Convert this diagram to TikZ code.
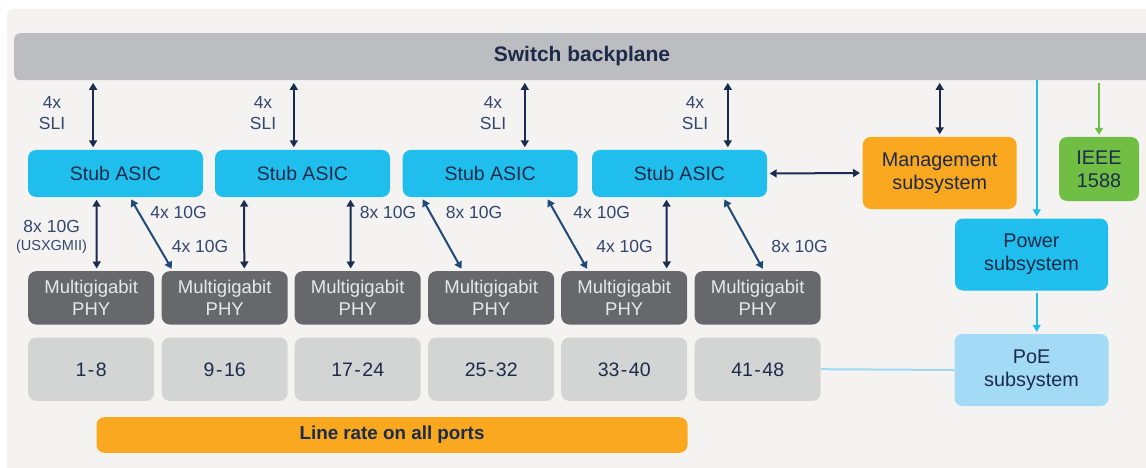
\documentclass[tikz,border=0pt]{standalone}
\usepackage{fontspec}
\setmainfont{Liberation Sans}
\usetikzlibrary{arrows.meta}
\definecolor{panelbg}{HTML}{F4F3F2}
\definecolor{bpgray}{HTML}{BCBDC0}
\definecolor{cyanbox}{HTML}{1FBEEC}
\definecolor{phygray}{HTML}{67686C}
\definecolor{portgray}{HTML}{D3D5D5}
\definecolor{mgmtorange}{HTML}{F9A81F}
\definecolor{ieeegreen}{HTML}{70BF44}
\definecolor{poeblue}{HTML}{A3DAF5}
\definecolor{navytext}{HTML}{1D2B4A}
\definecolor{labeltext}{HTML}{34466E}
\definecolor{navyarrow}{HTML}{1B2B50}
\definecolor{bluearrow}{HTML}{1F4A7A}
\definecolor{phytext}{HTML}{E8E8E8}
\definecolor{greenarrow}{HTML}{6DBE45}
\definecolor{poeline}{HTML}{9ED8F3}
\newcommand{\portdash}{\kern1.5pt-\kern1.5pt}
\begin{document}
\begin{tikzpicture}[x=1pt,y=-1pt,
  boxstyle/.style={rounded corners=8pt, inner sep=0pt, align=center, text=navytext},
  asicbox/.style={boxstyle, fill=cyanbox, minimum width=175pt, minimum height=47pt, font=\fontsize{19.5}{22}\selectfont},
  phybox/.style={boxstyle, fill=phygray, text=phytext, minimum width=126pt, minimum height=53.3pt, font=\fontsize{18.5}{22}\selectfont},
  portbox/.style={boxstyle, fill=portgray, minimum width=126pt, minimum height=63.4pt, font=\fontsize{19.5}{22}\selectfont},
  subbox/.style={boxstyle, minimum width=154pt, minimum height=72pt, font=\fontsize{19.8}{23}\selectfont},
  lbl/.style={text=labeltext, align=center, inner sep=0pt, font=\fontsize{17.5}{21}\selectfont},
  biarrow/.style={line width=2pt, draw=navyarrow, {Triangle[length=7pt,width=8pt]}-{Triangle[length=7pt,width=8pt]}, shorten <=2.5pt, shorten >=2.5pt},
  diarrow/.style={biarrow, draw=bluearrow},
]
\useasboundingbox (0,0) rectangle (1146,468);
\fill[white] (0,0) rectangle (1146,468);
\fill[panelbg, rounded corners=6pt] (7,9) rectangle (1170,490);

% backplane
\node[boxstyle, fill=bpgray, rounded corners=6pt, minimum width=1146pt, minimum height=47pt, anchor=north west] (bp) at (14,33) {};
\node[text=navytext, font=\fontsize{21}{24}\selectfont\bfseries] (bptext) at (582,56.5) {Switch backplane};

% ASICs
\node[asicbox] (asic1) at (115.5,173.5) {Stub ASIC};
\node[asicbox] (asic2) at (302.5,173.5) {Stub ASIC};
\node[asicbox] (asic3) at (490.2,173.5) {Stub ASIC};
\node[asicbox] (asic4) at (679.5,173.5) {Stub ASIC};

% subsystems
\node[subbox, fill=mgmtorange] (mgmt) at (939.7,173) {Management\\subsystem};
\node[subbox, fill=ieeegreen, minimum width=80pt, minimum height=64pt] (ieee) at (1099,169) {IEEE\\1588};
\node[subbox, fill=cyanbox, minimum width=153pt] (power) at (1031.5,254.5) {Power\\subsystem};
\node[subbox, fill=poeblue] (poe) at (1031.5,370) {PoE\\subsystem};

% PHYs and ports
\foreach \i/\lx/\pa/\pb in {1/28/1/8, 2/161.5/9/16, 3/294.5/17/24, 4/428/25/32, 5/561/33/40, 6/694.5/41/48}{
  \node[phybox, anchor=north west] (phy\i) at (\lx,271) {Multigigabit\\PHY};
  \node[portbox, anchor=north west, text depth=-1pt] (port\i) at (\lx,337.3) {\pa\portdash\pb};
}

% line rate bar
\node[boxstyle, fill=mgmtorange, minimum width=591pt, minimum height=35.7pt, font=\fontsize{18.8}{22}\selectfont\bfseries] (linerate) at (392,435) {Line rate on all ports};

% SLI arrows
\foreach \a/\dx/\lx in {1/65.3/52, 2/79/263, 3/122.3/493, 4/136/695}{
  \coordinate (sli\a) at ([xshift=\dx pt]asic\a.north west);
  \draw[biarrow] (bp.south -| sli\a) -- (sli\a);
  \node[lbl] (slilbl\a) at (\lx,113.5) {4x\\SLI};
}

% ASIC to PHY arrows
\draw[biarrow] ([xshift=68.7pt]asic1.south west) -- ([xshift=68.7pt]phy1.north west);
\draw[diarrow] ([xshift=102pt]asic1.south west) -- ([xshift=11.5pt]phy2.north west);
\draw[biarrow] ([xshift=29.3pt]asic2.south west) -- ([xshift=82.8pt]phy2.north west);
\draw[biarrow] ([xshift=135.7pt]asic2.south west) -- ([xshift=56.2pt]phy3.north west);
\draw[diarrow] ([xshift=19pt]asic3.south west) -- ([xshift=34.7pt]phy4.north west);
\draw[diarrow] ([xshift=144pt]asic3.south west) -- ([xshift=27.3pt]phy5.north west);
\draw[biarrow] ([xshift=74.7pt]asic4.south west) -- ([xshift=105.7pt]phy5.north west);
\draw[diarrow] ([xshift=131.3pt]asic4.south west) -- ([xshift=69.5pt]phy6.north west);

% ASIC-PHY labels
\node[lbl] (l8a) at (51.7,226.5) {8x 10G};
\node[lbl, font=\fontsize{14.5}{16}\selectfont] (lusx) at (51.5,246.5) {(USXGMII)};
\node[lbl] (l4a) at (178.5,212.5) {4x 10G};
\node[lbl] (l4b) at (200,246) {4x 10G};
\node[lbl] (l8b) at (388,212.5) {8x 10G};
\node[lbl] (l8c) at (474,212.5) {8x 10G};
\node[lbl] (l4c) at (601.7,212.5) {4x 10G};
\node[lbl] (l4d) at (624.5,246) {4x 10G};
\node[lbl] (l8d) at (799.5,246) {8x 10G};

% management connections
\draw[biarrow] (bp.south -| mgmt.north) -- (mgmt.north);
\draw[biarrow] (asic4.east) -- (mgmt.west);

% IEEE
\draw[line width=1.8pt, draw=greenarrow, -{Triangle[length=7pt,width=8pt]}, shorten <=2.5pt, shorten >=2pt] (bp.south -| ieee.north) -- (ieee.north);

% power
\coordinate (pw) at ([xshift=5.2pt]power.north);
\draw[line width=1.6pt, draw=cyanbox, -{Triangle[length=7pt,width=8pt]}, shorten >=2pt] (bp.south -| pw) -- (pw);
\draw[line width=1.6pt, draw=cyanbox, -{Triangle[length=7pt,width=8pt]}, shorten <=2.5pt, shorten >=2pt] (power.south -| pw) -- (poe.north -| pw);

% PoE line
\draw[line width=2pt, draw=poeline] (port6.east) -- (poe.west);
\end{tikzpicture}
\end{document}
